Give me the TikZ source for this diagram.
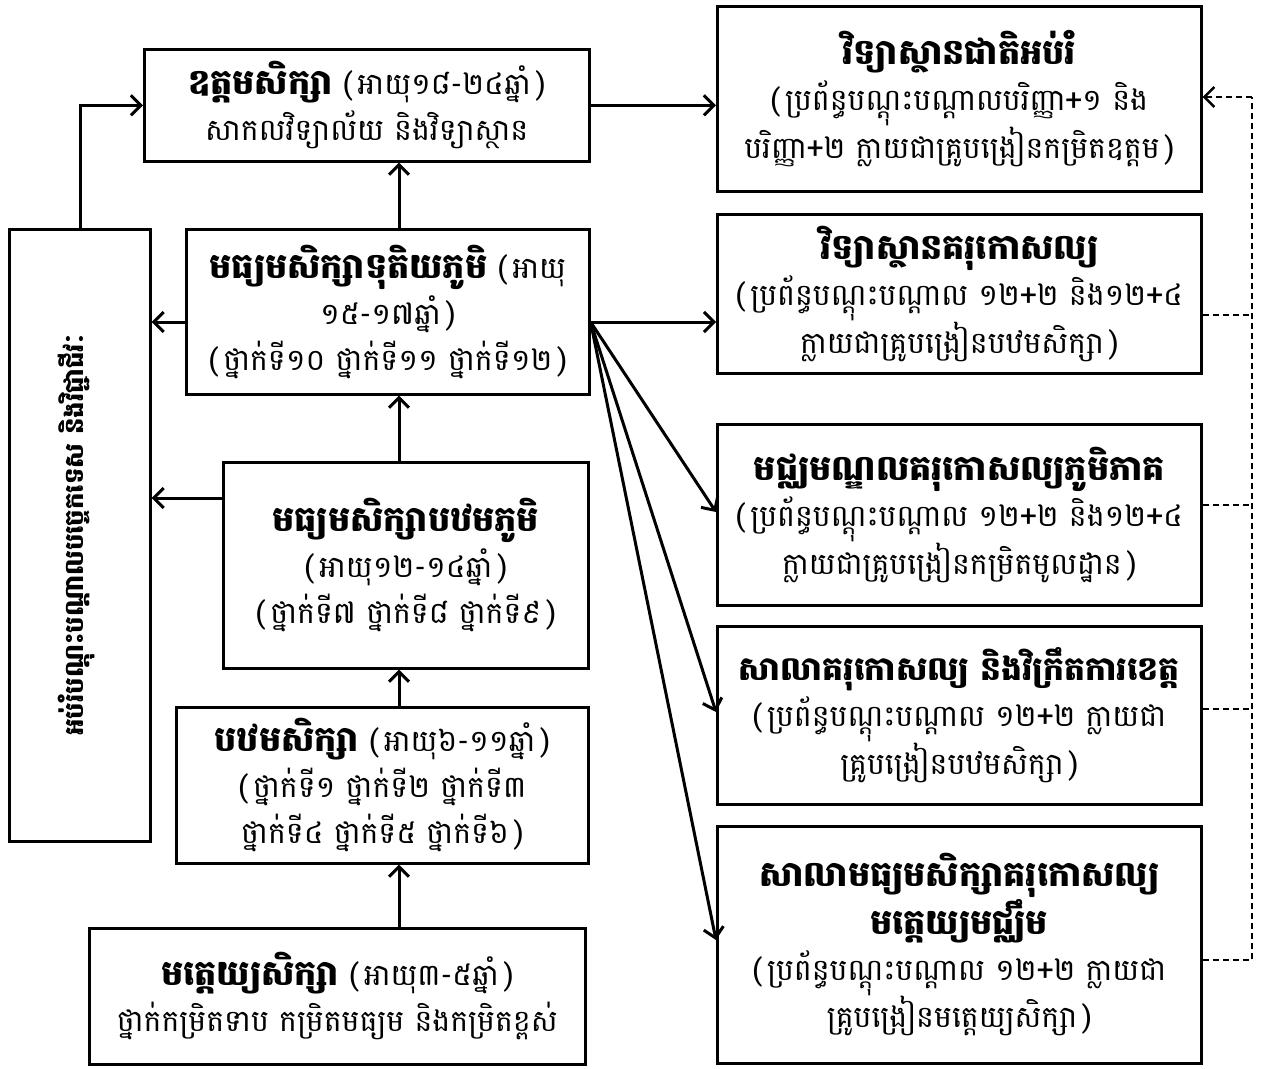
\documentclass[tikz,border=0pt]{standalone}
\usepackage{fontspec}
\usetikzlibrary{arrows.meta}
\newfontfamily\khm[Script=Khmer]{Battambang}
\newcommand{\tl}[1]{{\bfseries\fontsize{35}{46}\selectfont #1}}
\newcommand{\pa}[1]{(\kern5pt#1\kern5pt)}
\begin{document}
\begin{tikzpicture}[x=1pt,y=-1pt,
  box/.style={draw, line width=2.6pt, anchor=north west, inner sep=0pt, align=center,
    font=\khm\fontsize{30}{46}\selectfont},
  arr/.style={line width=3pt, -{Straight Barb[length=10pt,width=20pt]}},
  dsh/.style={line width=2pt, dash pattern=on 6pt off 4pt}]
\useasboundingbox (0,0) rectangle (1271,1068);
% left column
\node[box, minimum width=445, minimum height=112] (A) at (143,48)
  {\tl{ឧត្តមសិក្សា} \pa{អាយុ១៨-២៤ឆ្នាំ}\\ សាកលវិទ្យាល័យ និងវិទ្យាស្ថាន};
\node[box, minimum width=403, minimum height=165] (B) at (185,228)
  {\tl{មធ្យមសិក្សាទុតិយភូមិ} (\kern5pt អាយុ\\ ១៥-១៧ឆ្នាំ\kern5pt)\\ \pa{ថ្នាក់ទី១០ ថ្នាក់ទី១១ ថ្នាក់ទី១២}};
\node[box, minimum width=365, minimum height=206] (C) at (222,461)
  {\tl{មធ្យមសិក្សាបឋមភូមិ}\\ \pa{អាយុ១២-១៤ឆ្នាំ}\\ \pa{ថ្នាក់ទី៧ ថ្នាក់ទី៨ ថ្នាក់ទី៩}};
\node[box, minimum width=412, minimum height=156] (D) at (175,706)
  {\tl{បឋមសិក្សា} \pa{អាយុ៦-១១ឆ្នាំ}\\ (\kern5pt ថ្នាក់ទី១ ថ្នាក់ទី២ ថ្នាក់ទី៣\\ ថ្នាក់ទី៤ ថ្នាក់ទី៥ ថ្នាក់ទី៦\kern5pt)};
\node[box, minimum width=496, minimum height=136] (E) at (88,927)
  {\tl{មត្តេយ្យសិក្សា} \pa{អាយុ៣-៥ឆ្នាំ}\\ ថ្នាក់កម្រិតទាប កម្រិតមធ្យម និងកម្រិតខ្ពស់};
\node[box, minimum width=141, minimum height=612] (F) at (8,228) {};
\node[rotate=90, font=\khm\bfseries\fontsize{26}{36}\selectfont] (Ft) at ([xshift=-3pt]F.center)
  {អប់រំបណ្តុះបណ្តាលបច្ចេកទេស និងវិជ្ជាជីវៈ};
% right column
\node[box, minimum width=484, minimum height=185] (G) at (716,5)
  {\tl{វិទ្យាស្ថានជាតិអប់រំ}\\ (\kern5pt ប្រព័ន្ធបណ្តុះបណ្តាលបរិញ្ញា+១ និង\\ បរិញ្ញា+២ ក្លាយជាគ្រូបង្រៀនកម្រិតឧត្តម\kern5pt)};
\node[box, minimum width=484, minimum height=159] (H) at (716,213)
  {\tl{វិទ្យាស្ថានគរុកោសល្យ}\\ (\kern5pt ប្រព័ន្ធបណ្តុះបណ្តាល ១២+២ និង១២+៤\\ ក្លាយជាគ្រូបង្រៀនបឋមសិក្សា\kern5pt)};
\node[box, minimum width=484, minimum height=181] (I) at (716,423)
  {\tl{មជ្ឈមណ្ឌលគរុកោសល្យភូមិភាគ}\\ (\kern5pt ប្រព័ន្ធបណ្តុះបណ្តាល ១២+២ និង១២+៤\\ ក្លាយជាគ្រូបង្រៀនកម្រិតមូលដ្ឋាន\kern5pt)};
\node[box, minimum width=484, minimum height=178] (J) at (716,625)
  {{\bfseries\fontsize{33}{46}\selectfont សាលាគរុកោសល្យ និងវិក្រឹតការខេត្ត}\\ (\kern5pt ប្រព័ន្ធបណ្តុះបណ្តាល ១២+២ ក្លាយជា\\ គ្រូបង្រៀនបឋមសិក្សា\kern5pt)};
\node[box, minimum width=484, minimum height=237] (K) at (716,825)
  {\tl{សាលាមធ្យមសិក្សាគរុកោសល្យ}\\ \tl{មត្តេយ្យមជ្ឈឹម}\\ (\kern5pt ប្រព័ន្ធបណ្តុះបណ្តាល ១២+២ ក្លាយជា\\ គ្រូបង្រៀនមត្តេយ្យសិក្សា\kern5pt)};
% helper coordinates
\coordinate (cx) at (399,0);
\coordinate (fx) at (80,0);
\coordinate (dx) at (1252,0);
% vertical chain
\draw[arr] (E.north -| cx) -- (D.south -| cx);
\draw[arr] (D.north -| cx) -- (C.south -| cx);
\draw[arr] (C.north -| cx) -- (B.south -| cx);
\draw[arr] (B.north -| cx) -- (A.south -| cx);
% to technical box
\draw[arr] (B.west |- 0,322) -- (F.east |- 0,322);
\draw[arr] (C.west |- 0,498) -- (F.east |- 0,498);
\draw[arr] (F.north -| fx) |- (A.west);
% to teacher training
\draw[arr] (A.east) -- (G.west |- A.east);
\coordinate (bo) at (B.east |- 0,322);
\draw[arr] (bo) -- (H.west |- 0,322);
\draw[arr] (bo) -- (I.west |- 0,512);
\draw[arr] (bo) -- (J.west |- 0,712);
\draw[arr] (bo) -- (K.west |- 0,940);
% dashed feedback
\draw[dsh] (K.east |- 0,960) -- (dx |- 0,960) -- (dx |- 0,97);
\draw[dsh, -{Straight Barb[length=10pt,width=20pt]}, line width=2.4pt] (dx |- 0,97) -- (G.east |- 0,97);
\draw[dsh] (H.east |- 0,315) -- (dx |- 0,315);
\draw[dsh] (I.east |- 0,505) -- (dx |- 0,505);
\draw[dsh] (J.east |- 0,709) -- (dx |- 0,709);
\end{tikzpicture}
\end{document}
